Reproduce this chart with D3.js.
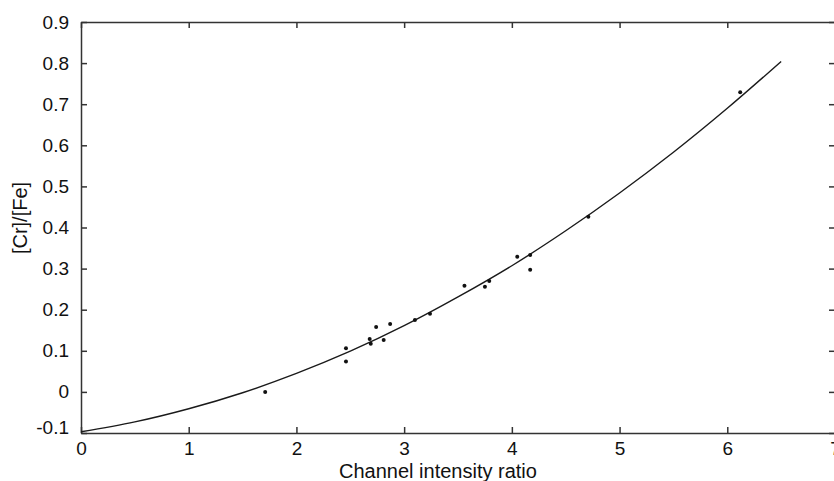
<!DOCTYPE html>
<html>
<head>
<meta charset="utf-8">
<title>Cr/Fe calibration</title>
<script src="https://cdn.jsdelivr.net/npm/d3@7/dist/d3.min.js"></script>
<style>
  body { margin: 0; background: #fff; }
  .axis text { font-family: "Liberation Sans", Arial, sans-serif; font-size: 19px; fill: #111; }
  .axis path, .axis line { stroke: #333; stroke-width: 1.5; }
</style>
</head>
<body>
<script>
// measured points
var ratio = [1.71, 2.46, 2.46, 2.68, 2.69, 2.74, 2.81, 2.87, 3.10, 3.24, 3.56, 3.75, 3.79, 4.05, 4.17, 4.17, 4.71, 6.12];
var crFe  = [0.000, 0.106, 0.074, 0.129, 0.117, 0.158, 0.126, 0.165, 0.175, 0.190, 0.258, 0.256, 0.270, 0.329, 0.333, 0.297, 0.426, 0.729];

// fitted curve
var fitX = [0, 0.5, 1, 1.5, 2, 2.5, 3, 3.5, 4, 4.5, 5, 5.5, 6, 6.5];
var fitY = [-0.097, -0.073, -0.041, -0.002, 0.045, 0.099, 0.161, 0.231, 0.307, 0.392, 0.484, 0.583, 0.690, 0.804];

var xTicks = [0, 1, 2, 3, 4, 5, 6, 7];
var yTicks = [-0.1, 0, 0.1, 0.2, 0.3, 0.4, 0.5, 0.6, 0.7, 0.8, 0.9];
var yLabels = ["-0.1", "0", "0.1", "0.2", "0.3", "0.4", "0.5", "0.6", "0.7", "0.8", "0.9"];

var width = 834, height = 481,
    padL = 81, padT = 22, padR = 835, padB = 433;

var svg = d3.select("body").append("svg")
  .attr("width", width)
  .attr("height", height);

var x = d3.scaleLinear().domain([0, 7]).range([padL, padR]);
var y = d3.scaleLinear().domain([-0.1, 0.9]).range([padB, padT]);

svg.append("g").attr("class", "axis")
  .attr("transform", "translate(0," + padB + ")")
  .call(d3.axisBottom(x).tickValues(xTicks).tickSizeInner(-6).tickSizeOuter(0).tickPadding(9).tickFormat(d3.format("d")));

svg.append("g").attr("class", "axis")
  .attr("transform", "translate(0," + padT + ")")
  .call(d3.axisTop(x).tickValues(xTicks).tickSizeInner(-6).tickSizeOuter(0).tickFormat(""));

var yAxis = svg.append("g").attr("class", "axis")
  .attr("transform", "translate(" + padL + ",0)")
  .call(d3.axisLeft(y).tickValues(yTicks).tickSizeInner(-6).tickSizeOuter(0).tickPadding(12)
    .tickFormat(function(d, i) { return yLabels[i]; }));
// lowest label sits a little above its tick, as in the original
yAxis.selectAll(".tick text").filter(function(d, i) { return i === 0; }).attr("dy", "0.05em");

svg.append("g").attr("class", "axis")
  .attr("transform", "translate(" + padR + ",0)")
  .call(d3.axisRight(y).tickValues(yTicks).tickSizeInner(-6).tickSizeOuter(0).tickFormat(""));

var line = d3.line()
  .x(function(d, i) { return x(fitX[i]); })
  .y(function(d) { return y(d); })
  .curve(d3.curveCatmullRom);

svg.append("path")
  .datum(fitY)
  .attr("d", line)
  .attr("fill", "none")
  .attr("stroke", "#1a1a1a")
  .attr("stroke-width", 1.4);

svg.selectAll("circle.pt")
  .data(ratio)
  .enter().append("circle")
  .attr("class", "pt")
  .attr("cx", function(d) { return x(d); })
  .attr("cy", function(d, i) { return y(crFe[i]); })
  .attr("r", 2)
  .attr("fill", "#111");

svg.append("text")
  .attr("x", 438)
  .attr("y", 478)
  .attr("text-anchor", "middle")
  .style("font-family", "Liberation Sans, Arial, sans-serif")
  .style("font-size", "20px")
  .style("fill", "#111")
  .text("Channel intensity ratio");

svg.append("text")
  .attr("transform", "translate(27,218) rotate(-90)")
  .attr("text-anchor", "middle")
  .style("font-family", "Liberation Sans, Arial, sans-serif")
  .style("font-size", "20px")
  .style("fill", "#111")
  .text("[Cr]/[Fe]");
</script>
</body>
</html>
